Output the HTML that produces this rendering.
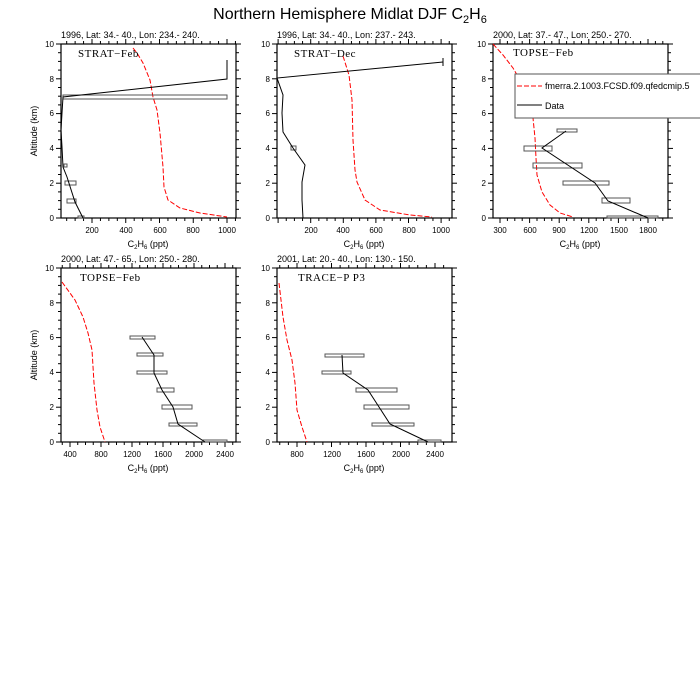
<!DOCTYPE html>
<html><head><meta charset="utf-8"><style>
body{margin:0;background:#fff}
svg{display:block;font-family:"Liberation Sans",sans-serif}
.t{font-size:8px}
.ttl{font-size:9px}
.in{font-family:"Liberation Serif",serif;font-size:11px;letter-spacing:0.5px}
</style></head><body>
<svg id="s" width="700" height="700" viewBox="0 0 700 700">
<text x="350" y="19" text-anchor="middle" font-size="16">Northern Hemisphere Midlat DJF C<tspan font-size="11" dy="4">2</tspan><tspan dy="-4">H</tspan><tspan font-size="11" dy="4">6</tspan></text>
<g id="ax" stroke="#000" fill="none"></g>
<g fill="none" stroke-width="1">
<polyline stroke="#f00" stroke-dasharray="5,2" points="133,48 137,53 143,63 150,80 153,97 157,110 160,133 163,167 164,187 168,200 180,208 200,213 227,217"/>
<g stroke="#555"><rect x="63" y="95" width="164" height="4"/><rect x="65" y="181" width="11" height="4"/><rect x="67" y="199" width="9" height="4"/><rect x="78" y="216" width="6" height="2"/><rect x="64" y="164" width="3" height="3"/></g>
<polyline stroke="#000" points="83,218 75,202 67,177 63,167 62,147 61,130 62,113 63,97 227,79 227,60"/>
<polyline stroke="#f00" stroke-dasharray="5,2" points="343,56 349,75 352,100 353,140 355,170 357,182 365,200 380,210 410,215 432,217"/>
<rect stroke="#555" x="291" y="146" width="5" height="4"/>
<polyline stroke="#000" points="303,218 302,200 302,182 305,165 293,148 283,132 282,113 283,95 277,78 443,62"/>
<line stroke="#000" x1="443" y1="58" x2="443" y2="66"/>
<polyline stroke="#f00" stroke-dasharray="5,2" points="493,44 503,55 513,68 523,85 530,100 533,118 535,138 536,158 537,175 542,192 550,205 560,213 573,217"/>
<g stroke="#555"><rect x="557" y="129" width="20" height="3"/><rect x="524" y="146" width="28" height="5"/><rect x="533" y="163" width="49" height="5"/><rect x="563" y="181" width="46" height="4"/><rect x="602" y="198" width="28" height="5"/><rect x="607" y="216" width="51" height="2"/></g>
<polyline stroke="#000" points="566,131 542,148 595,183 608,201 648,218"/>
<rect stroke="#555" fill="#fff" x="515" y="74" width="200" height="44"/>
<line stroke="#f00" stroke-dasharray="5,2" x1="517" y1="86" x2="542" y2="86"/>
<line stroke="#000" x1="517" y1="105" x2="542" y2="105"/>
<polyline stroke="#f00" stroke-dasharray="5,2" points="62,282 75,300 83,317 88,333 92,350 94,383 97,410 100,427 105,442"/>
<g stroke="#555"><rect x="130" y="336" width="25" height="3"/><rect x="137" y="353" width="26" height="3"/><rect x="137" y="371" width="30" height="3"/><rect x="157" y="388" width="17" height="4"/><rect x="162" y="405" width="30" height="4"/><rect x="169" y="423" width="28" height="3"/><rect x="203" y="440" width="24" height="2"/></g>
<polyline stroke="#000" points="142,337 154,355 154,373 162,390 173,407 178,424 205,442"/>
<polyline stroke="#f00" stroke-dasharray="5,2" points="279,283 283,317 287,340 292,360 295,383 297,410 302,427 307,442"/>
<g stroke="#555"><rect x="325" y="354" width="39" height="3"/><rect x="322" y="371" width="29" height="3"/><rect x="356" y="388" width="41" height="4"/><rect x="364" y="405" width="45" height="4"/><rect x="372" y="423" width="42" height="3"/><rect x="418" y="440" width="23" height="2"/></g>
<polyline stroke="#000" points="342,355 343,373 368,390 390,424 428,442"/>
</g>
<g font-size="9">
<text x="545" y="89">fmerra.2.1003.FCSD.f09.qfedcmip.5</text>
<text x="545" y="109">Data</text>
</g>
<g class="ttl">
<text x="61" y="38">1996, Lat: 34.- 40., Lon: 234.- 240.</text>
<text x="277" y="38">1996, Lat: 34.- 40., Lon: 237.- 243.</text>
<text x="493" y="38">2000, Lat: 37.- 47., Lon: 250.- 270.</text>
<text x="61" y="262">2000, Lat: 47.- 65., Lon: 250.- 280.</text>
<text x="277" y="262">2001, Lat: 20.- 40., Lon: 130.- 150.</text>
</g>
<g class="in">
<text x="78" y="57">STRAT−Feb</text>
<text x="294" y="57">STRAT−Dec</text>
<text x="513" y="56">TOPSE−Feb</text>
<text x="80" y="281">TOPSE−Feb</text>
<text x="298" y="281">TRACE−P P3</text>
</g>
<g class="t" text-anchor="end">
<text x="54" y="47">10</text><text x="54" y="82">8</text><text x="54" y="116">6</text><text x="54" y="151">4</text><text x="54" y="186">2</text><text x="54" y="221">0</text>
<text x="270" y="47">10</text><text x="270" y="82">8</text><text x="270" y="116">6</text><text x="270" y="151">4</text><text x="270" y="186">2</text><text x="270" y="221">0</text>
<text x="486" y="47">10</text><text x="486" y="82">8</text><text x="486" y="116">6</text><text x="486" y="151">4</text><text x="486" y="186">2</text><text x="486" y="221">0</text>
<text x="54" y="271">10</text><text x="54" y="306">8</text><text x="54" y="340">6</text><text x="54" y="375">4</text><text x="54" y="410">2</text><text x="54" y="445">0</text>
<text x="270" y="271">10</text><text x="270" y="306">8</text><text x="270" y="340">6</text><text x="270" y="375">4</text><text x="270" y="410">2</text><text x="270" y="445">0</text>
</g>
<g class="t" text-anchor="middle">
<text x="92" y="233">200</text><text x="126" y="233">400</text><text x="160" y="233">600</text><text x="193" y="233">800</text><text x="227" y="233">1000</text>
<text x="311" y="233">200</text><text x="343" y="233">400</text><text x="376" y="233">600</text><text x="409" y="233">800</text><text x="441" y="233">1000</text>
<text x="500" y="233">300</text><text x="530" y="233">600</text><text x="559" y="233">900</text><text x="589" y="233">1200</text><text x="619" y="233">1500</text><text x="648" y="233">1800</text>
<text x="70" y="457">400</text><text x="101" y="457">800</text><text x="132" y="457">1200</text><text x="163" y="457">1600</text><text x="194" y="457">2000</text><text x="225" y="457">2400</text>
<text x="297" y="457">800</text><text x="332" y="457">1200</text><text x="366" y="457">1600</text><text x="401" y="457">2000</text><text x="435" y="457">2400</text>
</g>
<g font-size="9" text-anchor="middle">
<text x="148" y="247">C<tspan font-size="6" dy="2">2</tspan><tspan dy="-2">H</tspan><tspan font-size="6" dy="2">6</tspan><tspan dy="-2"> (ppt)</tspan></text>
<text x="364" y="247">C<tspan font-size="6" dy="2">2</tspan><tspan dy="-2">H</tspan><tspan font-size="6" dy="2">6</tspan><tspan dy="-2"> (ppt)</tspan></text>
<text x="580" y="247">C<tspan font-size="6" dy="2">2</tspan><tspan dy="-2">H</tspan><tspan font-size="6" dy="2">6</tspan><tspan dy="-2"> (ppt)</tspan></text>
<text x="148" y="471">C<tspan font-size="6" dy="2">2</tspan><tspan dy="-2">H</tspan><tspan font-size="6" dy="2">6</tspan><tspan dy="-2"> (ppt)</tspan></text>
<text x="364" y="471">C<tspan font-size="6" dy="2">2</tspan><tspan dy="-2">H</tspan><tspan font-size="6" dy="2">6</tspan><tspan dy="-2"> (ppt)</tspan></text>
<text transform="translate(37,131) rotate(-90)">Altitude (km)</text>
<text transform="translate(37,355) rotate(-90)">Altitude (km)</text>
</g>
</svg>
<script>
var g=document.getElementById('ax'),h='';
function L(a,b,c,d){h+='<line x1="'+a+'" y1="'+b+'" x2="'+c+'" y2="'+d+'"/>';}
function panel(x0,x1,y0,xt,step){
 var y1=y0+174;
 h+='<rect x="'+x0+'" y="'+y0+'" width="'+(x1-x0)+'" height="174" stroke-width="1.2"/>';
 for(var i=0;i<=20;i++){var y=y1-i*174/20,len=(i%4==0)?5:3;L(x0,y,x0-len,y);L(x1,y,x1+len,y);}
 for(var k=-16;k<30;k++){var x=xt+k*step/4;if(x<x0||x>x1)continue;var len=(k%4==0)?5:3;L(x,y1,x,y1+len);L(x,y0,x,y0-len);}
}
panel(61,236,44,92,33.75);panel(277,452,44,310.7,32.6);panel(493,668,44,500,29.6);
panel(61,236,268,70,31);panel(277,452,268,297,34.5);
g.innerHTML=h;
</script>
</body></html>
